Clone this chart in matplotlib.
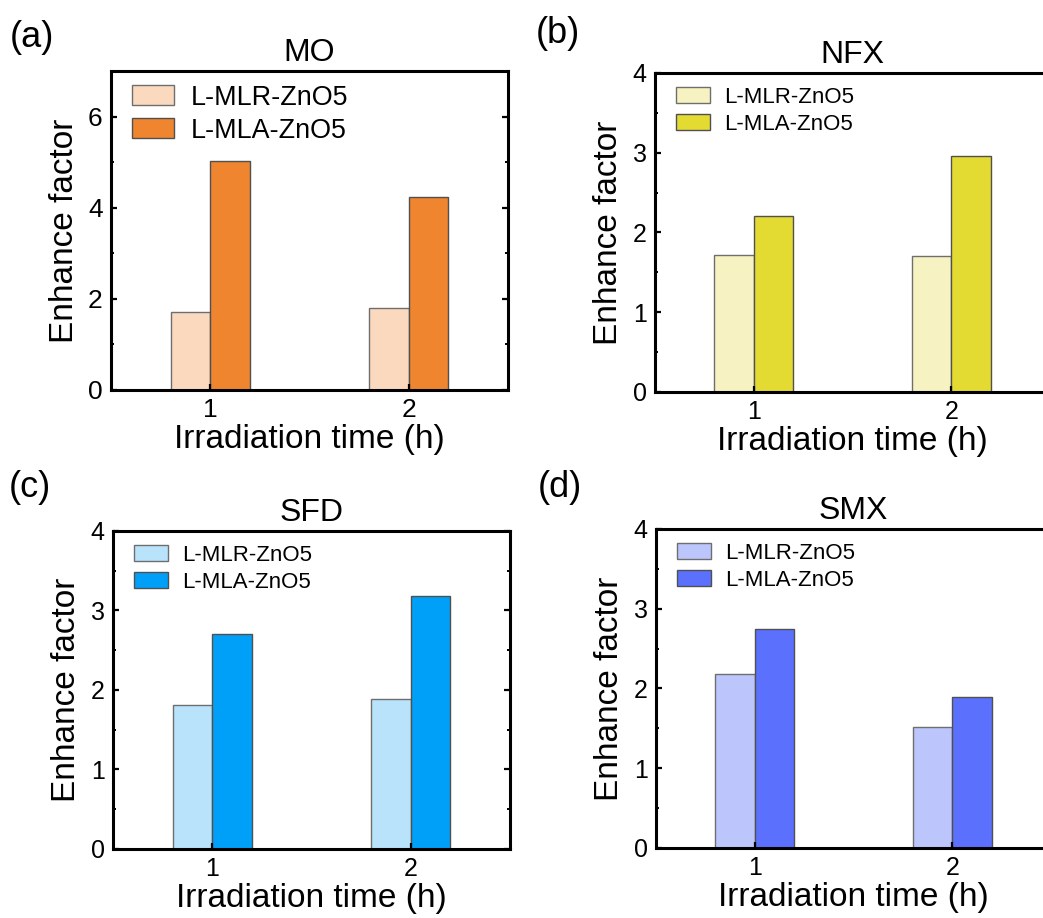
import numpy as np
import matplotlib
matplotlib.use("Agg")
from matplotlib import pyplot as plt
from matplotlib.ticker import MultipleLocator

plt.rcParams['font.family'] = ['Liberation Sans', 'DejaVu Sans']

# irradiation time (h) and series names
hours = [1, 2]
series = ['L-MLR-ZnO5', 'L-MLA-ZnO5']

# enhance factors, one list per pollutant: [MLR, MLA]
mo_mlr = [1.71, 1.80]
mo_mla = [5.03, 4.24]
nfx_mlr = [1.72, 1.71]
nfx_mla = [2.21, 2.96]
sfd_mlr = [1.81, 1.89]
sfd_mla = [2.70, 3.18]
smx_mlr = [2.18, 1.52]
smx_mla = [2.75, 1.89]

panels = [
    # label, title, mlr, mla, colors, ymax, ymajor, axes rect, fonts (tick, legend)
    ('(a)', 'MO', mo_mlr, mo_mla, ('#FAD9BE', '#EF852E'), 7, 2,
     [0.1064, 0.5752, 0.3806, 0.3475], (19, 19.4)),
    ('(b)', 'NFX', nfx_mlr, nfx_mla, ('#F7F2C1', '#E3DA32'), 4, 1,
     [0.6280, 0.5730, 0.3787, 0.3475], (18, 16)),
    ('(c)', 'SFD', sfd_mlr, sfd_mla, ('#B9E3FB', '#00A0F8'), 4, 1,
     [0.1083, 0.0752, 0.3806, 0.3464], (18, 16)),
    ('(d)', 'SMX', smx_mlr, smx_mla, ('#BCC6FD', '#5B71FE'), 4, 1,
     [0.6290, 0.0763, 0.3787, 0.3475], (18, 16)),
]

# panel letter positions (pixels from top-left, baseline)
letter_pos = [(10, 47), (536, 43), (9, 497), (538, 497)]

fig = plt.figure(figsize=(10.43, 9.18), dpi=100)
W, H = 1043, 918

x = np.array(hours, dtype=float)
bw = 0.2

for (lab, title, mlr, mla, cols, ymax, ymaj, rect, (tfs, lfs)), (px, py) in zip(panels, letter_pos):
    ax = fig.add_axes(rect)
    ax.bar(x - bw / 2, mlr, bw, color=cols[0], edgecolor='#6E6E6E', linewidth=1.0, label=series[0])
    ax.bar(x + bw / 2, mla, bw, color=cols[1], edgecolor='#505050', linewidth=1.0, label=series[1])

    ax.set_xlim(0.5, 2.5)
    ax.set_ylim(0, ymax)
    ax.set_xticks(hours)
    ax.yaxis.set_major_locator(MultipleLocator(ymaj))
    ax.yaxis.set_minor_locator(MultipleLocator(ymaj / 2))

    for s in ax.spines.values():
        s.set_linewidth(2.2)
    ax.tick_params(which='major', direction='in', length=4.5, width=1.6,
                   labelsize=tfs, pad=6, right=True, top=False)
    ax.tick_params(which='minor', direction='in', length=2.2, width=1.4, right=True)
    ax.tick_params(axis='x', which='minor', bottom=False)

    ax.set_title(title, fontsize=23, pad=7)
    ax.set_xlabel('Irradiation time (h)', fontsize=24, labelpad=1)
    ax.set_ylabel('Enhance factor', fontsize=24, labelpad=6)

    ax.legend(loc='upper left', bbox_to_anchor=(0.052, 0.957), frameon=False,
              fontsize=lfs, handlelength=1.56, handleheight=0.78,
              handletextpad=0.63, labelspacing=0.26, borderpad=0, borderaxespad=0)

    fig.text(px / W, 1 - py / H, lab, fontsize=26, ha='left', va='baseline')

fig.savefig('out.png', dpi=100)
